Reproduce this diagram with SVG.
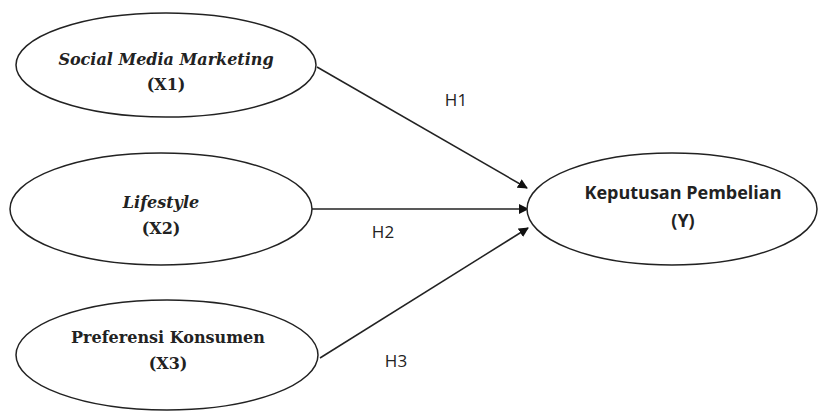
<svg xmlns="http://www.w3.org/2000/svg" width="819" height="412" viewBox="0 0 819 412">
<defs>
<style>
.node ellipse{fill:#fff;stroke:#222;stroke-width:1.5}
.serif{font-family:"DejaVu Serif","Liberation Serif",serif;font-size:16px;font-weight:bold;fill:#222;text-anchor:middle}
.it{font-style:italic}
.sans{font-family:"Open Sans","Liberation Sans",sans-serif;font-size:17px;fill:#222;text-anchor:middle}
.b{font-weight:bold;font-size:18px}
.conn line{stroke:#222;stroke-width:1.5;marker-end:url(#ah)}
</style>
<marker id="ah" markerWidth="10" markerHeight="10" refX="9" refY="5" orient="auto" markerUnits="userSpaceOnUse">
<path d="M0,0 L10,5 L0,10 z" fill="#111"/>
</marker>
</defs>
<rect width="819" height="412" fill="#fff"/>
<g class="conn">
<line x1="317" y1="67" x2="527" y2="188"/>
<line x1="312" y1="209" x2="528" y2="209"/>
<line x1="320" y1="358" x2="528" y2="228"/>
</g>
<g id="labels">
<text class="sans" x="456" y="106">H1</text>
<text class="sans" x="383" y="238">H2</text>
<text class="sans" x="396" y="367">H3</text>
</g>
<g id="x1" class="node">
<ellipse cx="166" cy="65" rx="150" ry="52"/>
<text class="serif it" x="166" y="65">Social Media Marketing</text>
<text class="serif" x="166" y="90">(X1)</text>
</g>
<g id="x2" class="node">
<ellipse cx="161" cy="209" rx="151" ry="56"/>
<text class="serif it" x="161" y="208">Lifestyle</text>
<text class="serif" x="161" y="234">(X2)</text>
</g>
<g id="x3" class="node">
<ellipse cx="167" cy="355" rx="151" ry="55"/>
<text class="serif" x="168" y="343">Preferensi Konsumen</text>
<text class="serif" x="168" y="369">(X3)</text>
</g>
<g id="y" class="node">
<ellipse cx="672" cy="209" rx="145" ry="56"/>
<text class="sans b" x="683" y="199">Keputusan Pembelian</text>
<text class="sans b" x="683" y="227">(Y)</text>
</g>
</svg>
